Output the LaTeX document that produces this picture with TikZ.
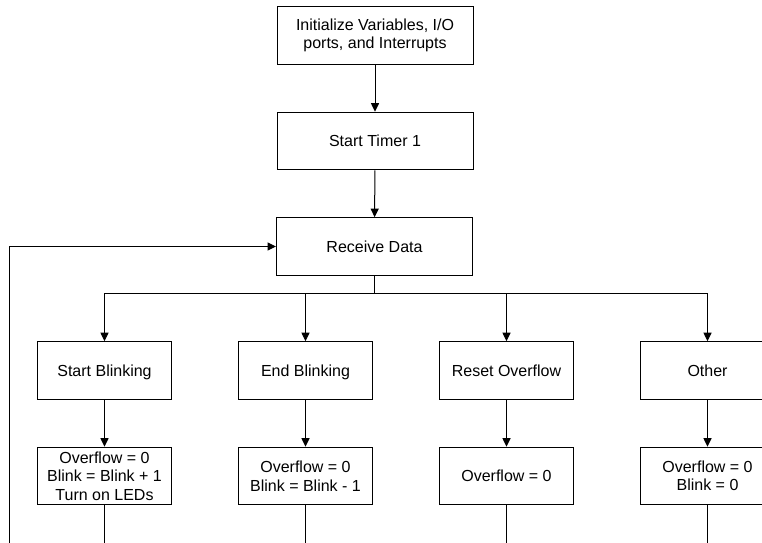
\documentclass[tikz,border=0pt]{standalone}
\usepackage{fontspec}
\setmainfont{Liberation Sans}
\usetikzlibrary{positioning, arrows.meta}

\tikzset{
    stepbox/.style={rectangle, draw, line width=1pt, align=center, inner sep=2pt, font=\fontsize{16}{18.4}\selectfont},
    wide/.style={stepbox, minimum width=196pt, minimum height=57.6pt},
    narrow/.style={stepbox, minimum width=134pt, minimum height=57.6pt},
    oneline/.style={text height=14.5pt, text depth=3pt},
    flow/.style={line width=1pt, -{Triangle[width=8pt, length=8.5pt]}},
    plain/.style={line width=1pt}
}

\begin{document}
\begin{tikzpicture}[x=1pt, y=-1pt]
            \useasboundingbox (0, 0) rectangle (762, 542);
            \clip (0, 0) rectangle (762, 542);

            \node[wide] (init) at (375, 35.2) {Initialize Variables, I/O\\ports, and Interrupts};
            \node[wide, oneline] (timer) at (375, 141) {Start Timer 1};
            \node[wide, oneline] (recv) at (374.5, 246.5) {Receive Data};

            \node[narrow, oneline] (sb) at (104.5, 370.5) {Start Blinking};
            \node[narrow, oneline] (eb) at (305.5, 370.5) {End Blinking};
            \node[narrow, oneline] (ro) at (506.5, 370.5) {Reset Overflow};
            \node[narrow, oneline] (ot) at (707.5, 370.5) {Other};

            \node[narrow] (sbact) at (104.5, 476) {Overflow = 0\\Blink = Blink + 1\\Turn on LEDs};
            \node[narrow] (ebact) at (305.5, 476) {Overflow = 0\\Blink = Blink - 1};
            \node[narrow, oneline] (roact) at (506.5, 476) {Overflow = 0};
            \node[narrow] (otact) at (707.5, 476) {Overflow = 0\\Blink = 0};

            \coordinate (split) at (374.5, 293);
            \coordinate (loop) at (9, 546);
            \coordinate (sbend) at (104.5, 546);
            \coordinate (ebend) at (305.5, 546);
            \coordinate (roend) at (506.5, 546);
            \coordinate (otend) at (707.5, 546);

            \draw[flow] (init) -- (timer);
            \draw[flow] (timer) -- (recv);
            \draw[plain] (recv) -- (split);
            \draw[flow] (split) -| (sb);
            \draw[flow] (split) -| (eb);
            \draw[flow] (split) -| (ro);
            \draw[flow] (split) -| (ot);

            \draw[flow] (sb) -- (sbact);
            \draw[flow] (eb) -- (ebact);
            \draw[flow] (ro) -- (roact);
            \draw[flow] (ot) -- (otact);

            \draw[plain] (sbact) -- (sbend);
            \draw[plain] (ebact) -- (ebend);
            \draw[plain] (roact) -- (roend);
            \draw[plain] (otact) -- (otend);
            \draw[flow] (loop) |- (recv);
        \end{tikzpicture}
\end{document}
